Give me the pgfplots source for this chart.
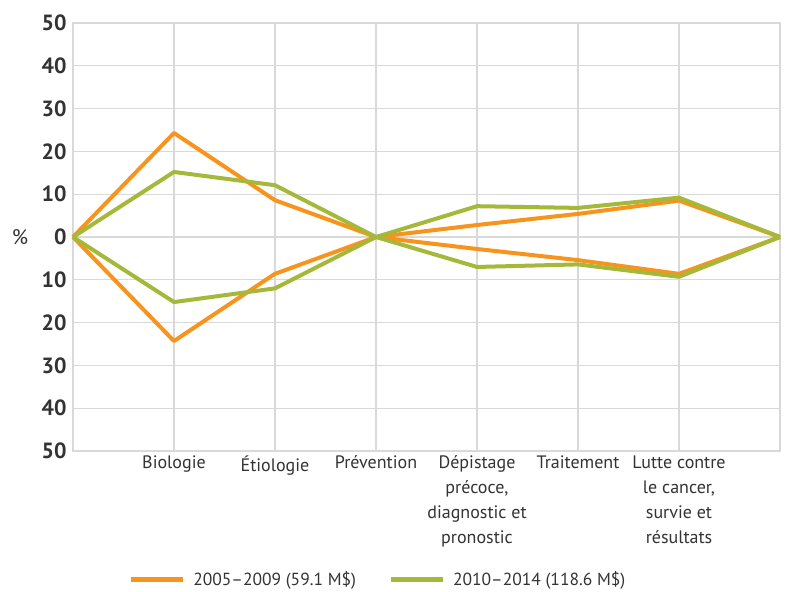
\documentclass[border=0pt]{standalone}
\usepackage{pgfplots}
\pgfplotsset{compat=1.18}
\usepackage{fontspec}
\setmainfont{PT Sans}
\definecolor{orangeS}{HTML}{F7941D}
\definecolor{greenS}{HTML}{A5B83A}
\definecolor{gridG}{HTML}{D9D9D9}
\definecolor{txt}{HTML}{333333}
\begin{document}
\begin{tikzpicture}
\begin{axis}[
    scale only axis, width=707bp, height=428bp,
    xmin=0, xmax=7, ymin=-50, ymax=50,
    clip=false,
    axis line style={gridG, line width=1.2pt},
    grid=both, grid style={gridG, line width=1.2pt},
    major tick length=0pt,
    xtick={0,...,7},
    xticklabels={,Biologie,Étiologie,Prévention,Dépistage\\précoce{,}\\diagnostic et\\pronostic,Traitement,Lutte contre\\le cancer{,}\\survie et\\résultats,},
    xticklabel style={align=center, font=\fontsize{18bp}{25bp}\selectfont, text=txt, anchor=north, yshift=-1bp},
    ytick={-50,-40,...,50},
    yticklabel={\pgfmathparse{abs(\tick)}\pgfmathprintnumber{\pgfmathresult}},
    yticklabel style={font=\fontsize{22bp}{24bp}\selectfont\bfseries, text=txt, xshift=-3bp},
    /pgf/number format/assume math mode=true,
    ylabel={\%},
    every axis y label/.style={at={(rel axis cs:0,0.5)}, xshift=-53bp, anchor=center, font=\fontsize{21bp}{24bp}\selectfont, text=txt},
    legend columns=2,
    legend style={at={(rel axis cs:0.078,-0.30)}, anchor=west, draw=none, fill=none, inner sep=0pt,
        font=\fontsize{17.5bp}{21bp}\selectfont, text=txt,
        /tikz/every odd column/.append style={column sep=6bp},
        /tikz/every even column/.append style={column sep=30bp}},
    legend image code/.code={\draw[#1, line width=5bp] (0bp,0bp) -- (52bp,0bp);},
    every axis plot/.append style={line width=4bp, line join=round},
]
\coordinate (bl) at (rel axis cs:0,0);
\coordinate (tr) at (rel axis cs:1,1);
\addplot[orangeS] coordinates {(0,0) (1,24.3) (2,8.6) (3,0) (4,2.8) (5,5.4) (6,8.5) (7,0)};
\addlegendentry{2005–2009 (59.1 M\$)}
\addplot[orangeS, forget plot] coordinates {(0,0) (1,-24.3) (2,-8.6) (3,0) (4,-2.8) (5,-5.4) (6,-8.6) (7,0)};
\addplot[greenS] coordinates {(0,0) (1,15.2) (2,12.1) (3,0) (4,7.2) (5,6.8) (6,9.2) (7,0)};
\addlegendentry{2010–2014 (118.6 M\$)}
\addplot[greenS, forget plot] coordinates {(0,0) (1,-15.2) (2,-12.0) (3,0) (4,-7.0) (5,-6.4) (6,-9.3) (7,0)};
\end{axis}
\pgfresetboundingbox
\path ([shift={(-73bp,-140bp)}]bl) rectangle ([shift={(7bp,23bp)}]tr);
\end{tikzpicture}
\end{document}
